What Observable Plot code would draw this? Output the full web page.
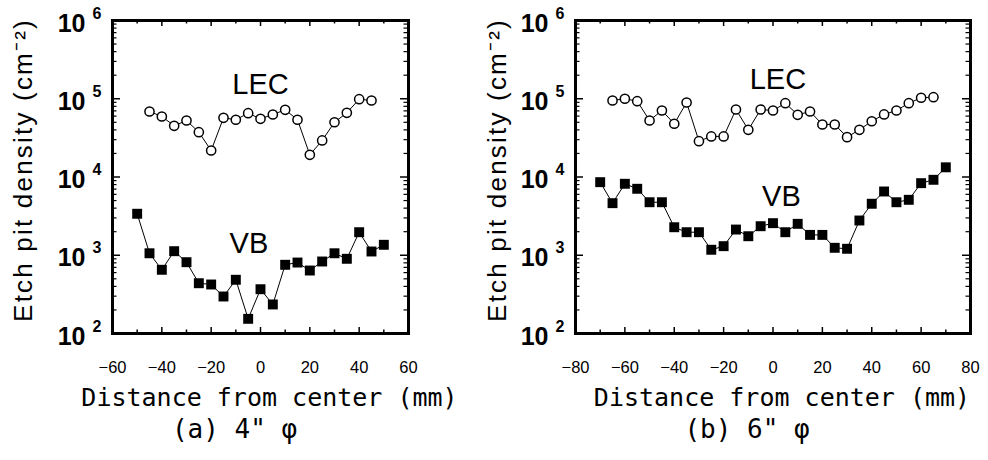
<!DOCTYPE html>
<html><head><meta charset="utf-8">
<script src="https://cdn.jsdelivr.net/npm/d3@7"></script>
<script src="https://cdn.jsdelivr.net/npm/@observablehq/plot@0.6"></script>
<style>
body{margin:0;background:#fff;}
#wrap{position:relative;width:988px;height:460px;overflow:hidden;background:#fff;}
#wrap > svg{position:absolute;top:0;overflow:visible;}
</style></head><body><div id="wrap"></div>
<script>
// ---- data ----
const leftX_LEC = [-45,-40,-35,-30,-25,-20,-15,-10,-5,0,5,10,15,20,25,30,35,40,45];
const leftLEC = [68700,59300,45100,52700,37400,21800,57100,53900,65400,55400,62900,72200,53900,19200,29300,50100,66100,98700,95000];
const leftX_VB = [-50,-45,-40,-35,-30,-25,-20,-15,-10,-5,0,5,10,15,20,25,30,35,40,45,50];
const leftVB = [3390,1060,652,1127,815,439,423,297,486,154,368,235,755,807,638,832,1060,901,1970,1117,1360];
const rightX_LEC = [-65,-60,-55,-50,-45,-40,-35,-30,-25,-20,-15,-10,-5,0,5,10,15,20,25,30,35,40,45,50,55,60,65];
const rightLEC = [95000,100000,93000,52700,70800,47900,89500,28700,33000,33000,72900,40100,72900,70800,87700,62400,68700,46900,46900,32300,40100,51600,63000,70800,87700,103000,104700];
const rightX_VB = [-70,-65,-60,-55,-50,-45,-40,-35,-30,-25,-20,-15,-10,-5,0,5,10,15,20,25,30,35,40,45,50,55,60,65,70];
const rightVB = [8590,4630,8190,7070,4760,4760,2280,1970,1970,1175,1306,2130,1750,2350,2570,1970,2520,1820,1820,1245,1210,2780,4550,6530,4760,5110,8340,9210,13300];

const xTickLabelsA = [-60,-40,-20,0,20,40,60];
const xTickLabelsB = [-80,-60,-40,-20,0,20,40,60,80];
const yExponents = [2,3,4,5,6];
const seriesNames = ["LEC","VB"];
const xAxisTitle = "Distance from center (mm)";
const yAxisTitle = "Etch pit density (cm\u207B\u00B2)";
const captions = ["(a) 4\" \u03C6", "(b) 6\" \u03C6"];

// ---- helpers ----
const yMajor = yExponents.map(e => 10 ** e);
const yMinor = d3.range(2, 6).flatMap(e => d3.range(2, 10).map(m => m * 10 ** e));
const mono = "DejaVu Sans Mono, monospace";
const sans = "Liberation Sans, Arial, Helvetica, sans-serif";

function panel(o) {
  const innerW = o.width - o.ml - o.mr;
  const innerH = 460 - 20 - 127;
  const lec = o.xl.map((x, i) => ({x, y: o.lec[i]}));
  const vb = o.xv.map((x, i) => ({x, y: o.vb[i]}));
  const [xmin, xmax] = o.domain;
  const xMaj = d3.range(xmin, xmax + 1, 20);
  const xMin = d3.range(xmin + 10, xmax, 20);
  const svg = Plot.plot({
    width: o.width, height: 460,
    marginLeft: o.ml, marginRight: o.mr, marginTop: 20, marginBottom: 127,
    style: {fontFamily: sans, background: "white", overflow: "visible"},
    x: {domain: o.domain},
    y: {type: "log", domain: [1e2, 1e6], axis: null},
    marks: [
      // inward ticks
      Plot.tickY(yMajor, {y: d => d, insetRight: innerW - 8, strokeWidth: 1.5}),
      Plot.tickY(yMajor, {y: d => d, insetLeft: innerW - 8, strokeWidth: 1.5}),
      Plot.tickY(yMinor, {y: d => d, insetRight: innerW - 4.5, strokeWidth: 1.2}),
      Plot.tickY(yMinor, {y: d => d, insetLeft: innerW - 4.5, strokeWidth: 1.2}),
      Plot.tickX(xMaj, {x: d => d, insetTop: innerH - 6, strokeWidth: 1.5}),
      Plot.tickX(xMin, {x: d => d, insetTop: innerH - 3.5, strokeWidth: 1.5}),
      Plot.tickX(xMaj, {x: d => d, insetBottom: innerH - 6, strokeWidth: 1.5}),
      Plot.tickX(xMin, {x: d => d, insetBottom: innerH - 3.5, strokeWidth: 1.5}),
      Plot.frame({stroke: "black", strokeWidth: 3}),
      // series
      Plot.line(lec, {x: "x", y: "y", stroke: "black", strokeWidth: 1}),
      Plot.dot(lec, {x: "x", y: "y", r: 4.6, fill: "white", stroke: "black", strokeWidth: 1.5}),
      Plot.line(vb, {x: "x", y: "y", stroke: "black", strokeWidth: 1}),
      Plot.dot(vb, {x: "x", y: "y", r: 5.6, symbol: "square", fill: "black", stroke: "none"}),
      // series labels
      Plot.text([seriesNames[0]], {x: o.lecLab[0], y: o.lecLab[1], text: d => d, fontSize: 29, fontFamily: sans}),
      Plot.text([seriesNames[1]], {x: o.vbLab[0], y: o.vbLab[1], text: d => d, fontSize: 29, fontFamily: sans}),
      // y tick labels 10^n
      Plot.text(yExponents, {y: d => 10 ** d, text: () => "10", frameAnchor: "left", textAnchor: "end", dx: -27, dy: 3, fontSize: 25, fontWeight: "bold", fontFamily: sans}),
      Plot.text(yExponents, {y: d => 10 ** d, text: d => String(d), frameAnchor: "left", textAnchor: "start", dx: -20, dy: -7, fontSize: 16, fontWeight: "bold", fontFamily: sans}),
      // x tick labels
      Plot.axisX(o.xLabels, {tickSize: 0, tickPadding: 28, fontSize: 16.5, fontFamily: sans, label: null}),
      // titles
      Plot.text([xAxisTitle], {frameAnchor: "bottom", text: d => d, dx: 9, dy: 72, fontSize: 25, fontFamily: mono}),
      Plot.text([o.caption], {frameAnchor: "bottom", text: d => d, dx: -26, dy: 104, fontSize: 26, fontFamily: mono}),
      Plot.text([yAxisTitle], {frameAnchor: "left", textAnchor: "middle", text: d => d, rotate: -90, dx: o.ydx, dy: -7, fontSize: 26, fontFamily: sans})
    ]
  });
  svg.querySelectorAll("text").forEach(t => {
    if (t.textContent === yAxisTitle) t.style.letterSpacing = "2.2px";
  });
  svg.style.left = o.left + "px";
  document.getElementById("wrap").appendChild(svg);
}

panel({left: 0, width: 480, ml: 112, mr: 72, domain: [-60, 60],
  xl: leftX_LEC, lec: leftLEC, xv: leftX_VB, vb: leftVB,
  lecLab: [0, 152000], vbLab: [-4.7, 1410], xLabels: xTickLabelsA,
  caption: captions[0], ydx: -89});
panel({left: 480, width: 508, ml: 95, mr: 18, domain: [-80, 80],
  xl: rightX_LEC, lec: rightLEC, xv: rightX_VB, vb: rightVB,
  lecLab: [2, 176000], vbLab: [3.4, 5640], xLabels: xTickLabelsB,
  caption: captions[1], ydx: -78});
</script></body></html>
